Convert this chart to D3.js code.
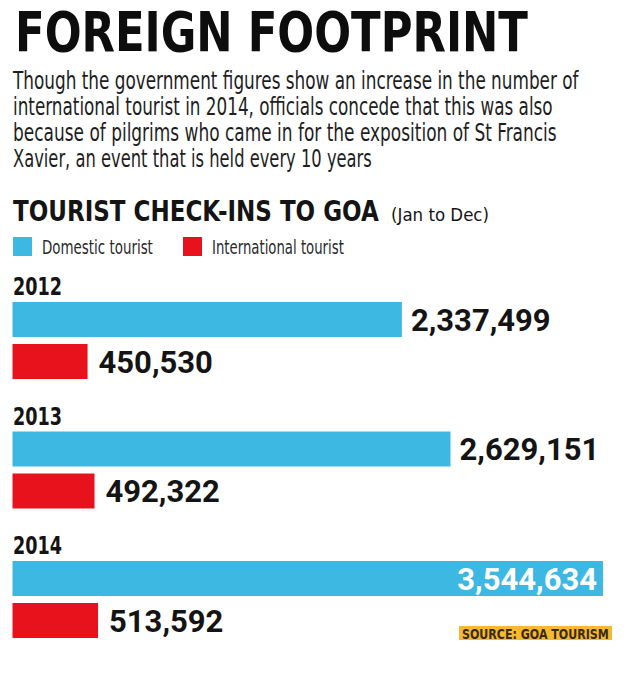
<!DOCTYPE html>
<html><head><meta charset="utf-8">
<script src="https://cdn.jsdelivr.net/npm/d3@7"></script>
<style>body{margin:0;background:#fff}svg{display:block}</style>
</head><body>
<svg id="chart" width="640" height="690"></svg>
<script>
const years = ["2012", "2013", "2014"];
const domestic = [2337499, 2629151, 3544634];
const international = [450530, 492322, 513592];
const seriesNames = ["Domestic tourist", "International tourist"];
const seriesColors = ["#3cb8e3", "#e8121d"];
const title = "FOREIGN FOOTPRINT";
const subtitleLines = [
  "Though the government figures show an increase in the number of",
  "international tourist in 2014, officials concede that this was also",
  "because of pilgrims who came in for the exposition of St Francis",
  "Xavier, an event that is held every 10 years"
];
const chartHeading = "TOURIST CHECK-INS TO GOA";
const chartPeriod = "(Jan to Dec)";
const sourceText = "SOURCE: GOA TOURISM";

const narrow = "'Liberation Sans Narrow','Arial Narrow','DejaVu Sans Condensed',sans-serif";
const numFont = "Roboto,'Liberation Sans',sans-serif";
const ink = "#141414";

const svg = d3.select("#chart");

// Squeeze a text horizontally to a given width using a transform
function fit(sel, x, y, w) {
  sel.each(function(d, i) {
    const el = d3.select(this).attr("x", 0).attr("y", 0);
    const len = this.getComputedTextLength();
    const xx = typeof x === "function" ? x(d, i) : x;
    const yy = typeof y === "function" ? y(d, i) : y;
    const ww = typeof w === "function" ? w(d, i) : w;
    el.attr("transform", `translate(${xx},${yy}) scale(${ww / len},1)`);
  });
  return sel;
}

// Title
svg.append("text")
  .attr("font-family", narrow).attr("font-weight", 700).attr("font-size", 54.5)
  .attr("fill", "#0d0d0d").text(title)
  .call(fit, 15, 51, 513);

// Subtitle
const subWidths = [566, 540, 544, 359];
svg.append("g").selectAll("text").data(subtitleLines).join("text")
  .attr("font-family", narrow).attr("font-size", 24)
  .attr("fill", "#1e1e1e").text(d => d)
  .call(fit, 13, (d, i) => 89 + i * 26, (d, i) => subWidths[i]);

// Chart heading
svg.append("text")
  .attr("font-family", narrow).attr("font-weight", 700).attr("font-size", 28)
  .attr("fill", ink).text(chartHeading)
  .call(fit, 13, 221, 366);
svg.append("text")
  .attr("font-family", narrow).attr("font-size", 17)
  .attr("fill", ink).text(chartPeriod)
  .call(fit, 391, 221, 98);

// Legend
const legendX = [13, 183];
const legendW = [111, 132];
const lg = svg.append("g").selectAll("g").data(seriesNames).join("g")
  .attr("transform", (d, i) => `translate(${legendX[i]},237)`);
lg.append("rect").attr("width", 19).attr("height", 19).attr("fill", (d, i) => seriesColors[i]);
lg.append("text")
  .attr("font-family", narrow).attr("font-size", 20)
  .attr("fill", "#2a2a2a").text(d => d)
  .call(fit, 29, 17, (d, i) => legendW[i]);

// Scales
const x = d3.scaleLinear().domain([0, d3.max(domestic)]).range([12.5, 603]);
const y = d3.scaleBand().domain(years).range([277, 277 + 3 * 129.5]);
const barH = 35;
const offsets = [25, 67];

const data = years.map((yr, i) => ({ year: yr, values: [domestic[i], international[i]] }));
const groups = svg.append("g").selectAll("g").data(data).join("g")
  .attr("transform", d => `translate(0,${y(d.year)})`);

groups.append("text")
  .attr("font-family", narrow).attr("font-weight", 700).attr("font-size", 25)
  .attr("fill", ink).text(d => d.year)
  .call(fit, 13, 18, 49);

const fmt = d3.format(",");
groups.each(function(d) {
  const g = d3.select(this);
  d.values.forEach((v, s) => {
    const top = offsets[s];
    g.append("rect").attr("x", x(0)).attr("y", top)
      .attr("width", x(v) - x(0)).attr("height", barH)
      .attr("fill", seriesColors[s]);
    const inside = x(v) > 560;
    g.append("text")
      .attr("x", inside ? x(v) - 6 : x(v) + (s === 0 ? 9 : 11))
      .attr("y", top + barH / 2 + 11)
      .attr("text-anchor", inside ? "end" : "start")
      .attr("font-family", numFont).attr("font-weight", 700).attr("font-size", 31)
      .attr("fill", inside ? "#ffffff" : ink)
      .text(fmt(v));
  });
});

// Source
svg.append("rect").attr("x", 459).attr("y", 626).attr("width", 153).attr("height", 14).attr("fill", "#f6b930");
svg.append("text")
  .attr("font-family", narrow).attr("font-weight", 700).attr("font-size", 14)
  .attr("fill", "#3a2a10").text(sourceText)
  .call(fit, 462, 638.5, 147);
</script>
</body></html>
